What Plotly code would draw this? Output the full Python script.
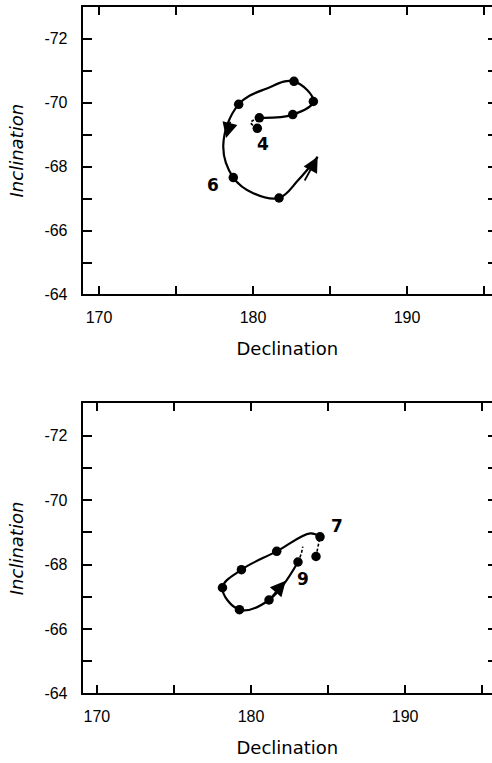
import plotly.graph_objects as go

# ---------------- data ----------------
# Top panel: measured points
top_pts_x = [180.28, 180.41, 182.58, 183.92, 182.66, 179.07, 178.72, 181.69]
top_pts_y = [-69.20, -69.53, -69.63, -70.04, -70.67, -69.95, -67.66, -67.02]
# Top panel: smooth path through the points
top_path_x = [180.41, 182.58, 183.92, 182.66, 180.90, 179.07, 178.07, 178.72, 180.02, 181.69, 182.94, 184.20]
top_path_y = [-69.53, -69.63, -70.04, -70.67, -70.45, -69.95, -68.67, -67.66, -67.17, -67.02, -67.58, -68.31]
# Top panel: small dotted hook near point 4
top_hook_x = [180.28, 179.86, 180.41]
top_hook_y = [-69.20, -69.38, -69.53]
# Top panel arrows (tail -> tip)
top_arrow_tail_x = [178.55, 183.30]
top_arrow_tail_y = [-69.45, -67.52]
top_arrow_tip_x = [178.25, 184.20]
top_arrow_tip_y = [-68.90, -68.31]
# Top panel labels
top_lab_text = ["4", "6"]
top_lab_x = [180.67, 177.42]
top_lab_y = [-68.72, -67.43]

# Bottom panel: measured points
bot_pts_x = [184.48, 184.22, 183.05, 181.67, 179.38, 178.15, 179.25, 181.17]
bot_pts_y = [-68.86, -68.25, -68.08, -68.41, -67.84, -67.28, -66.60, -66.90]
# Bottom panel: smooth path
bot_path_x = [184.48, 183.85, 181.67, 179.38, 178.15, 179.25, 181.17, 183.05]
bot_path_y = [-68.86, -68.97, -68.41, -67.84, -67.28, -66.60, -66.90, -68.08]
# Bottom panel: short broken pieces
bot_dash1_x = [184.22, 184.48]
bot_dash1_y = [-68.25, -68.86]
bot_dash2_x = [183.05, 183.25, 183.36]
bot_dash2_y = [-68.08, -68.32, -68.56]
# Bottom panel arrow (tail -> tip)
bot_arrow_tail_x = [181.17]
bot_arrow_tail_y = [-66.90]
bot_arrow_tip_x = [182.25]
bot_arrow_tip_y = [-67.50]
# Bottom panel labels
bot_lab_text = ["7", "9"]
bot_lab_x = [185.60, 183.36]
bot_lab_y = [-69.19, -67.56]

# Axis ticks
x_tickvals = [170, 175, 180, 185, 190, 195]
x_ticktext = ["170", "", "180", "", "190", ""]
y_tickvals = [-72, -71, -70, -69, -68, -67, -66, -65, -64]
y_ticktext = ["-72", "", "-70", "", "-68", "", "-66", "", "-64"]

x_title = "Declination"
y_title = "Inclination"

# ---------------- figure ----------------
W, H = 492, 763
fig = go.Figure()

def add_panel(xa, ya, yr, path_x, path_y, pts_x, pts_y, dashes):
    fig.add_trace(go.Scatter(x=path_x, y=path_y, mode="lines",
                             line=dict(color="black", width=2.2, shape="spline", smoothing=1.1),
                             xaxis=xa, yaxis=ya, showlegend=False, hoverinfo="skip"))
    for dx, dy in dashes:
        fig.add_trace(go.Scatter(x=dx, y=dy, mode="lines",
                                 line=dict(color="black", width=1.6, dash="3px,2px", shape="spline"),
                                 xaxis=xa, yaxis=ya, showlegend=False, hoverinfo="skip"))
    fig.add_trace(go.Scatter(x=pts_x, y=pts_y, mode="markers",
                             marker=dict(color="black", size=9.5),
                             xaxis=xa, yaxis=ya, showlegend=False))
    # empty trace on right mirror axis so it gets drawn
    fig.add_trace(go.Scatter(x=[], y=[], xaxis=xa, yaxis=yr, showlegend=False))

add_panel("x", "y", "y3", top_path_x, top_path_y, top_pts_x, top_pts_y,
          [(top_hook_x, top_hook_y)])
add_panel("x2", "y2", "y4", bot_path_x, bot_path_y, bot_pts_x, bot_pts_y,
          [(bot_dash1_x, bot_dash1_y), (bot_dash2_x, bot_dash2_y)])

annotations = []
def add_arrows(xref, yref, tx, ty, hx, hy):
    for a, b, c, d in zip(tx, ty, hx, hy):
        annotations.append(dict(x=c, y=d, ax=a, ay=b, xref=xref, yref=yref,
                                axref=xref, ayref=yref, showarrow=True, text="",
                                arrowhead=2, arrowsize=1.7, arrowwidth=1.8,
                                arrowcolor="black", standoff=0))

def add_labels(xref, yref, texts, xs, ys):
    for t, a, b in zip(texts, xs, ys):
        annotations.append(dict(x=a, y=b, xref=xref, yref=yref, text=t,
                                showarrow=False,
                                font=dict(family="DejaVu Sans", size=17, color="black",
                                          weight="bold")))

add_arrows("x", "y", top_arrow_tail_x, top_arrow_tail_y, top_arrow_tip_x, top_arrow_tip_y)
add_arrows("x2", "y2", bot_arrow_tail_x, bot_arrow_tail_y, bot_arrow_tip_x, bot_arrow_tip_y)
add_labels("x", "y", top_lab_text, top_lab_x, top_lab_y)
add_labels("x2", "y2", bot_lab_text, bot_lab_x, bot_lab_y)

tickfont = dict(family="Liberation Sans, Arial", size=16, color="black")
titlefont = dict(family="DejaVu Sans", size=18, color="black")

def xaxis(domain, anchor, rng):
    return dict(domain=domain, anchor=anchor, range=rng, showgrid=False, zeroline=False,
                showline=True, linecolor="black", linewidth=2, mirror="ticks",
                ticks="inside", ticklen=8, tickwidth=1.5, tickcolor="black",
                tickmode="array", tickvals=x_tickvals, ticktext=x_ticktext,
                tickfont=tickfont, ticklabelstandoff=7,
                title=dict(text=x_title, font=titlefont, standoff=18))

def yaxis(domain, anchor, rng):
    return dict(domain=domain, anchor=anchor, range=rng, showgrid=False, zeroline=False,
                showline=True, linecolor="black", linewidth=2, mirror=False,
                ticks="inside", ticklen=9, tickwidth=1.5, tickcolor="black",
                tickmode="array", tickvals=y_tickvals, ticktext=y_ticktext,
                tickfont=tickfont, ticklabelstandoff=10,
                title=dict(text=y_title, standoff=16,
                           font=dict(family="DejaVu Sans", size=18, color="black", style="italic")))

def yright(over, anchor, rng):
    return dict(overlaying=over, anchor=anchor, side="right", range=rng,
                showgrid=False, zeroline=False, showline=False,
                ticks="inside", ticklen=4, tickwidth=1.5, tickcolor="black",
                tickmode="array", tickvals=y_tickvals, showticklabels=False)

xd = [82.7 / W, 1.0]
top_dom = [1 - 298 / H, 1 - 7 / H]
bot_dom = [1 - 701.7 / H, 1 - 408.3 / H]
yr = [-64, -73]

fig.update_layout(
    width=W, height=H,
    margin=dict(l=0, r=0, t=0, b=0),
    paper_bgcolor="white", plot_bgcolor="white",
    xaxis=xaxis(xd, "y", [168.94, 195.52]),
    yaxis=yaxis(top_dom, "x", yr),
    xaxis2=xaxis(xd, "y2", [169.08, 195.64]),
    yaxis2=yaxis(bot_dom, "x2", yr),
    yaxis3=yright("y", "x", yr),
    yaxis4=yright("y2", "x2", yr),
    annotations=annotations,
    showlegend=False,
)

fig.write_html("out.html")
